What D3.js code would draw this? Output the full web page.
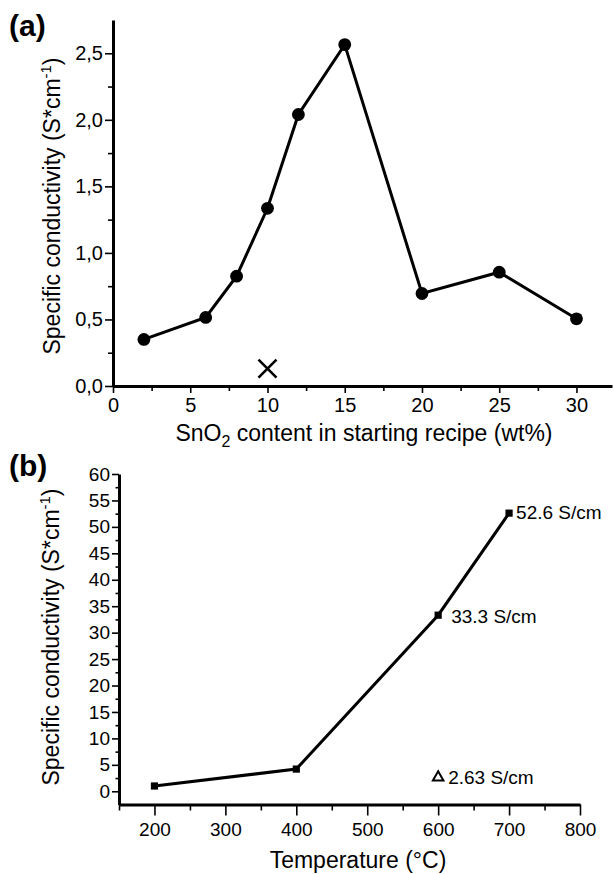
<!DOCTYPE html>
<html>
<head>
    <title>Conductivity</title>
    <script src="https://d3js.org/d3.v7.min.js"></script>
    <style>
        body { margin: 0; background: #fff; }
        svg { font-family: "Liberation Sans", Arial, sans-serif; }
        .axis path, .axis line { stroke: #000; }
        .axis text { fill: #000; font-family: "Liberation Sans", Arial, sans-serif; }
    </style>
</head>
<body>
    <svg id="chart"></svg>
    <script>
        const width = 614;
        const height = 874;

        // panel (a): SnO2 content vs conductivity
        const snO2Content = [2, 6, 8, 10, 12, 15, 20, 25, 30];
        const conductivityA = [0.35, 0.515, 0.825, 1.335, 2.04, 2.565, 0.695, 0.855, 0.505];
        const crossPoint = [10, 0.13];

        // panel (b): temperature vs conductivity
        const temperature = [200, 400, 600, 700];
        const conductivityB = [1.0, 4.2, 33.3, 52.6];
        const pointLabels = ["", "", "33.3 S/cm", "52.6 S/cm"];
        const trianglePoint = [600, 2.63];
        const triangleLabel = "2.63 S/cm";

        const svg = d3.select("#chart")
            .attr("width", width)
            .attr("height", height);

        function addYTitle(g, x, y) {
            const t = g.append("text")
                .attr("transform", `translate(${x},${y}) rotate(-90)`)
                .attr("text-anchor", "middle")
                .attr("font-size", 23);
            t.append("tspan").text("Specific conductivity (S*cm");
            t.append("tspan").attr("dy", -9).attr("font-size", 15).text("-1");
            t.append("tspan").attr("dy", 9).text(")");
        }

        // ---------- panel (a) ----------
        const xA = d3.scaleLinear().domain([0, 32.3]).range([113, 612]);
        const yA = d3.scaleLinear().domain([0, 2.75]).range([386, 20]);

        const gA = svg.append("g");

        // minor ticks
        gA.append("g").attr("class", "axis")
            .attr("transform", `translate(0,${yA(0)})`)
            .call(d3.axisBottom(xA).tickValues(d3.range(2.5, 32.5, 5)).tickSize(5).tickFormat(""))
            .call(g => g.select(".domain").remove())
            .selectAll("line").attr("stroke-width", 1.6);
        gA.append("g").attr("class", "axis")
            .attr("transform", `translate(${xA(0)},0)`)
            .call(d3.axisLeft(yA).tickValues(d3.range(0.25, 2.75, 0.5)).tickSize(5).tickFormat(""))
            .call(g => g.select(".domain").remove())
            .selectAll("line").attr("stroke-width", 1.6);

        gA.append("g").attr("class", "axis")
            .attr("transform", `translate(0,${yA(0)})`)
            .call(d3.axisBottom(xA).tickValues(d3.range(0, 31, 5)).tickSize(7).tickSizeOuter(0).tickPadding(5))
            .call(g => g.select(".domain").attr("stroke-width", 3))
            .call(g => g.selectAll("line").attr("stroke-width", 1.6))
            .call(g => g.selectAll("text").attr("font-size", 20));

        gA.append("g").attr("class", "axis")
            .attr("transform", `translate(${xA(0)},0)`)
            .call(d3.axisLeft(yA).tickValues(d3.range(0, 2.51, 0.5)).tickSize(8).tickSizeOuter(0).tickPadding(2)
                .tickFormat(d => d3.format(".1f")(d).replace(".", ",")))
            .call(g => g.select(".domain").attr("stroke-width", 3))
            .call(g => g.selectAll("line").attr("stroke-width", 1.6))
            .call(g => g.selectAll("text").attr("font-size", 20));

        const dataA = snO2Content.map((d, i) => [d, conductivityA[i]]);
        gA.append("path")
            .datum(dataA)
            .attr("fill", "none")
            .attr("stroke", "#000")
            .attr("stroke-width", 3)
            .attr("d", d3.line().x(d => xA(d[0])).y(d => yA(d[1])));

        gA.selectAll(".dotA")
            .data(dataA)
            .enter().append("circle")
            .attr("class", "dotA")
            .attr("cx", d => xA(d[0]))
            .attr("cy", d => yA(d[1]))
            .attr("r", 6.4)
            .attr("fill", "#000");

        gA.append("path")
            .attr("transform", `translate(${xA(crossPoint[0])},${yA(crossPoint[1])})`)
            .attr("d", "M-9,-9L9,9M-9,9L9,-9")
            .attr("stroke", "#000")
            .attr("stroke-width", 2.6);

        addYTitle(gA, 60, 206);

        const xTitleA = gA.append("text")
            .attr("x", 364).attr("y", 441)
            .attr("text-anchor", "middle")
            .attr("font-size", 23);
        xTitleA.append("tspan").text("SnO");
        xTitleA.append("tspan").attr("dy", 6).attr("font-size", 16).text("2");
        xTitleA.append("tspan").attr("dy", -6).text(" content in starting recipe (wt%)");

        gA.append("text")
            .attr("x", 9).attr("y", 36)
            .attr("font-size", 30).attr("font-weight", "bold")
            .text("(a)");

        // ---------- panel (b) ----------
        const xB = d3.scaleLinear().domain([150, 800]).range([119, 580]);
        const yB = d3.scaleLinear().domain([-2.5, 60]).range([804.5, 474]);

        const gB = svg.append("g");

        gB.append("g").attr("class", "axis")
            .attr("transform", `translate(0,${yB(-2.5)})`)
            .call(d3.axisBottom(xB).tickValues(d3.range(150, 800, 100)).tickSize(6).tickFormat(""))
            .call(g => g.select(".domain").remove())
            .selectAll("line").attr("stroke-width", 1.6);
        gB.append("g").attr("class", "axis")
            .attr("transform", `translate(${xB(150)},0)`)
            .call(d3.axisLeft(yB).tickValues(d3.range(2.5, 60, 5)).tickSize(3.5).tickFormat(""))
            .call(g => g.select(".domain").remove())
            .selectAll("line").attr("stroke-width", 1.6);

        gB.append("g").attr("class", "axis")
            .attr("transform", `translate(0,${yB(-2.5)})`)
            .call(d3.axisBottom(xB).tickValues(d3.range(200, 801, 100)).tickSize(11).tickSizeOuter(0).tickPadding(7))
            .call(g => g.select(".domain").attr("stroke-width", 3))
            .call(g => g.selectAll("line").attr("stroke-width", 1.6))
            .call(g => g.selectAll("text").attr("font-size", 19));

        gB.append("g").attr("class", "axis")
            .attr("transform", `translate(${xB(150)},0)`)
            .call(d3.axisLeft(yB).tickValues(d3.range(0, 61, 5)).tickSize(7).tickSizeOuter(0).tickPadding(2))
            .call(g => g.select(".domain").attr("stroke-width", 3))
            .call(g => g.selectAll("line").attr("stroke-width", 1.6))
            .call(g => g.selectAll("text").attr("font-size", 19));

        const dataB = temperature.map((d, i) => [d, conductivityB[i], pointLabels[i]]);
        gB.append("path")
            .datum(dataB)
            .attr("fill", "none")
            .attr("stroke", "#000")
            .attr("stroke-width", 3)
            .attr("d", d3.line().x(d => xB(d[0])).y(d => yB(d[1])));

        gB.selectAll(".sqB")
            .data(dataB)
            .enter().append("rect")
            .attr("class", "sqB")
            .attr("x", d => xB(d[0]) - 3.6)
            .attr("y", d => yB(d[1]) - 3.6)
            .attr("width", 7.2).attr("height", 7.2)
            .attr("fill", "#000");

        gB.selectAll(".lblB")
            .data(dataB.filter(d => d[2]))
            .enter().append("text")
            .attr("class", "lblB")
            .attr("x", d => xB(d[0]) + (d[0] === 700 ? 7 : 13))
            .attr("y", d => yB(d[1]) + (d[0] === 700 ? 6 : 8))
            .attr("font-size", 19)
            .text(d => d[2]);

        gB.append("path")
            .attr("transform", `translate(${xB(trianglePoint[0])},${yB(trianglePoint[1])})`)
            .attr("d", d3.symbol().type(d3.symbolTriangle).size(48))
            .attr("fill", "none")
            .attr("stroke", "#000")
            .attr("stroke-width", 2);
        gB.append("text")
            .attr("x", xB(trianglePoint[0]) + 10)
            .attr("y", yB(trianglePoint[1]) + 6.5)
            .attr("font-size", 19)
            .text(triangleLabel);

        addYTitle(gB, 59, 637);

        gB.append("text")
            .attr("x", 358).attr("y", 868)
            .attr("text-anchor", "middle")
            .attr("font-size", 23)
            .text("Temperature (°C)");

        gB.append("text")
            .attr("x", 9).attr("y", 476)
            .attr("font-size", 30).attr("font-weight", "bold")
            .text("(b)");
    </script>
</body>
</html>
